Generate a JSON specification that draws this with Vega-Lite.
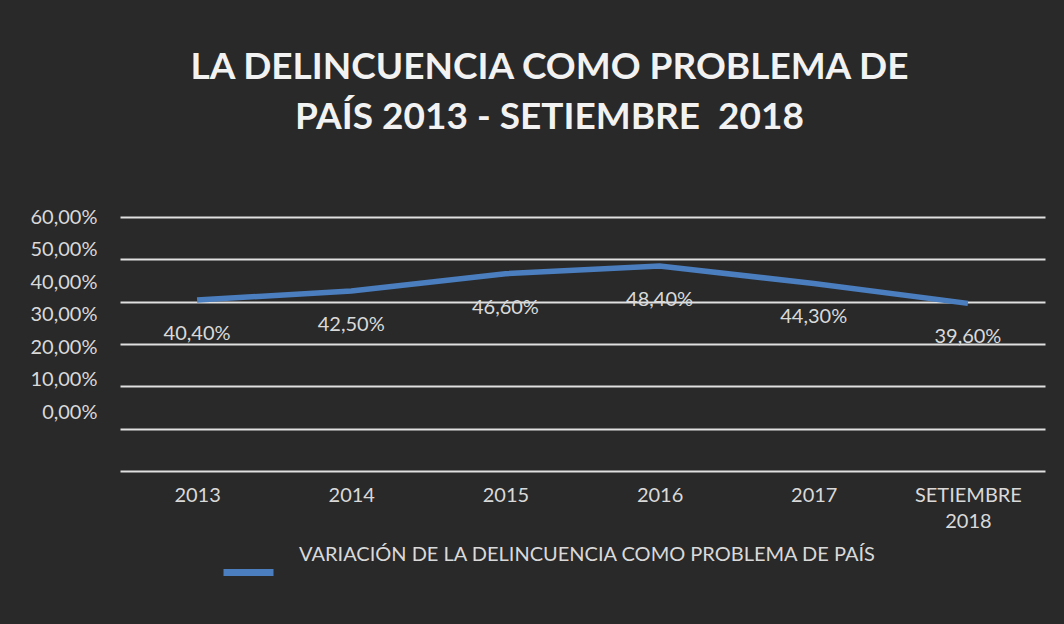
{
  "$schema": "https://vega.github.io/schema/vega-lite/v6.json",
  "autosize": {"type": "none"},
  "padding": {"left": 120, "top": 217, "right": 19, "bottom": 153},
  "width": 925,
  "height": 254,
  "background": "#292929",
  "title": {
    "text": ["LA DELINCUENCIA COMO PROBLEMA DE", "PAÍS 2013 - SETIEMBRE \u00a02018"],
    "font": "Lato",
    "fontSize": 37,
    "fontWeight": "bold",
    "color": "#f2f2f2",
    "lineHeight": 50,
    "anchor": "middle",
    "frame": "group",
    "dx": -33,
    "offset": 70
  },
  "data": {
    "values": [
      {"periodo": "2013", "valor": 0.404, "serie": "VARIACIÓN DE LA DELINCUENCIA COMO PROBLEMA DE PAÍS"},
      {"periodo": "2014", "valor": 0.425, "serie": "VARIACIÓN DE LA DELINCUENCIA COMO PROBLEMA DE PAÍS"},
      {"periodo": "2015", "valor": 0.466, "serie": "VARIACIÓN DE LA DELINCUENCIA COMO PROBLEMA DE PAÍS"},
      {"periodo": "2016", "valor": 0.484, "serie": "VARIACIÓN DE LA DELINCUENCIA COMO PROBLEMA DE PAÍS"},
      {"periodo": "2017", "valor": 0.443, "serie": "VARIACIÓN DE LA DELINCUENCIA COMO PROBLEMA DE PAÍS"},
      {"periodo": "SETIEMBRE 2018", "valor": 0.396, "serie": "VARIACIÓN DE LA DELINCUENCIA COMO PROBLEMA DE PAÍS"}
    ]
  },
  "encoding": {
    "x": {
      "field": "periodo",
      "type": "ordinal",
      "sort": null,
      "scale": {"type": "point", "padding": 0.5},
      "axis": {
        "title": null,
        "labelAngle": 0,
        "ticks": false,
        "domain": false,
        "labelPadding": 14,
        "labelFont": "Lato",
        "labelFontSize": 20,
        "labelColor": "#d9d9d9",
        "labelLineHeight": 26,
        "labelExpr": "datum.label == 'SETIEMBRE 2018' ? ['SETIEMBRE', '2018'] : datum.label"
      }
    }
  },
  "layer": [
    {
      "mark": {"type": "point", "opacity": 0},
      "encoding": {
        "y": {
          "field": "valor",
          "type": "quantitative",
          "scale": {"domain": [-0.1815, 0.6], "nice": false, "zero": false},
          "axis": {
            "orient": "left",
            "title": null,
            "values": [0, 0.1, 0.2, 0.3, 0.4, 0.5, 0.6],
            "grid": false,
            "ticks": false,
            "domain": false,
            "labelPadding": 23,
            "labelFont": "Lato",
            "labelFontSize": 20,
            "labelColor": "#d9d9d9",
            "labelExpr": "replace(format(datum.value, '.2%'), '.', ',')"
          }
        }
      }
    },
    {
      "mark": {"type": "line", "strokeWidth": 5.5, "strokeCap": "butt"},
      "encoding": {
        "y": {
          "field": "valor",
          "type": "quantitative",
          "scale": {"domain": [0, 0.6], "nice": false},
          "axis": {
            "orient": "right",
            "title": null,
            "values": [0, 0.1, 0.2, 0.3, 0.4, 0.5, 0.6],
            "grid": true,
            "gridColor": "#e0e0e0",
            "gridWidth": 2,
            "gridOpacity": 1,
            "labels": false,
            "ticks": false,
            "domain": false
          }
        },
        "color": {
          "field": "serie",
          "type": "nominal",
          "scale": {"range": ["#4a7ebf"]},
          "legend": {
            "title": null,
            "orient": "none",
            "legendX": 100,
            "legendY": 327,
            "symbolType": "stroke",
            "symbolSize": 2500,
            "symbolStrokeWidth": 7,
            "labelFont": "Lato",
            "labelFontSize": 20,
            "labelColor": "#d9d9d9",
            "labelOffset": 22,
            "labelLimit": 800,
            "encode": {"labels": {"update": {"dy": {"value": -18}}}}
          }
        }
      }
    },
    {
      "mark": {"type": "text", "dy": 34, "font": "Lato", "fontSize": 20, "color": "#d9d9d9"},
      "encoding": {
        "y": {
          "field": "valor",
          "type": "quantitative",
          "scale": {"domain": [0, 0.6], "nice": false},
          "axis": null
        },
        "text": {"field": "valor", "type": "quantitative", "format": ".2%"}
      }
    }
  ],
  "resolve": {"scale": {"y": "independent"}, "axis": {"y": "independent"}},
  "config": {
    "view": {"stroke": null},
    "locale": {"number": {"decimal": ",", "thousands": ".", "grouping": [3], "currency": ["", "€"]}}
  }
}
